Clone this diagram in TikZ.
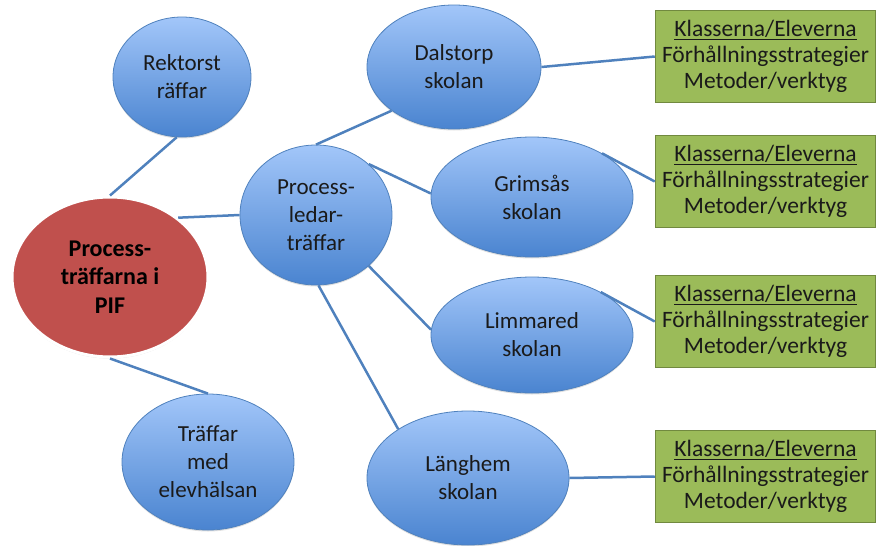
\documentclass[tikz,border=0pt]{standalone}
\usepackage{fontspec}
\setmainfont{Carlito}
\usetikzlibrary{shapes.geometric}
\usetikzlibrary{shadows}
\definecolor{ellline}{HTML}{4F81BD}
\definecolor{elltop}{HTML}{A2C6F9}
\definecolor{ellbottom}{HTML}{4A84D0}
\definecolor{pifred}{HTML}{C0504D}
\definecolor{boxgreen}{HTML}{9BBB59}
\definecolor{boxline}{HTML}{71893F}
\definecolor{txt}{HTML}{1A1A1A}

\begin{document}
\begin{tikzpicture}[x=1pt,y=-1pt,
    every node/.style={font=\fontsize{23}{28}\selectfont, align=center, inner sep=0pt, text=txt},
    blueell/.style={ellipse, draw=ellline, line width=0.8pt, top color=elltop, bottom color=ellbottom,
        drop shadow={opacity=0.25, shadow xshift=0pt, shadow yshift=-1.5pt}},
    pifell/.style={ellipse, draw=white, line width=3pt, fill=pifred, text=black,
        font=\fontsize{24}{28.5}\selectfont\bfseries,
        drop shadow={opacity=0.3, shadow xshift=0pt, shadow yshift=-1.5pt}},
    klassbox/.style={rectangle, draw=boxline, line width=1.5pt, fill=boxgreen,
        font=\fontsize{23.5}{25.7}\selectfont, minimum width=220pt, minimum height=92pt},
    link/.style={ellline, line width=2.5pt}]
    \useasboundingbox (0,0) rectangle (878,546);

    \node[pifell, minimum width=196pt, minimum height=160pt] (pif) at (110,277) {Process-\\träffarna i\\PIF};
    \node[blueell, minimum width=138pt, minimum height=120pt] (rektor) at (182,77) {Rektorst\\räffar};
    \node[blueell, minimum width=152pt, minimum height=140pt] (ledare) at (316,215) {Process-\\ledar-\\träffar};
    \node[blueell, minimum width=172pt, minimum height=136pt] (elev) at (208,462) {Träffar\\med\\elevhälsan};

    \node[blueell, minimum width=174pt, minimum height=124pt] (dalstorp) at (454,67) {Dalstorp\\skolan};
    \node[blueell, minimum width=202pt, minimum height=120pt] (grimsas) at (532,197) {Grimsås\\skolan};
    \node[blueell, minimum width=202pt, minimum height=116pt] (limmared) at (532,335) {Limmared\\skolan};
    \node[blueell, minimum width=202pt, minimum height=134pt] (langhem) at (468,478) {Länghem\\skolan};

    \node[klassbox] (box1) at (765.5,56.5) {\underline{Klasserna/Eleverna}\\Förhållningsstrategier\\Metoder/verktyg};
    \node[klassbox] (box2) at (765.5,181.5) {\underline{Klasserna/Eleverna}\\Förhållningsstrategier\\Metoder/verktyg};
    \node[klassbox] (box3) at (765.5,321.5) {\underline{Klasserna/Eleverna}\\Förhållningsstrategier\\Metoder/verktyg};
    \node[klassbox] (box4) at (765.5,476.5) {\underline{Klasserna/Eleverna}\\Förhållningsstrategier\\Metoder/verktyg};

    \draw[link] (pif.north) -- (rektor.265);
    \draw[link] (pif.41) -- (ledare.west);
    \draw[link] (pif.south) -- (elev.north);
    \draw[link] (ledare.north) -- (dalstorp.215);
    \draw[link] (ledare.44) -- (grimsas.178);
    \draw[link] (ledare.-44) -- (limmared.177);
    \draw[link] (ledare.272) -- (langhem.145);
    \draw[link] (dalstorp.east) -- (box1.west);
    \draw[link] (grimsas.32) -- (box2.west);
    \draw[link] (limmared.32) -- (box3.west);
    \draw[link] (langhem.east) -- (box4.west);
\end{tikzpicture}
\end{document}
